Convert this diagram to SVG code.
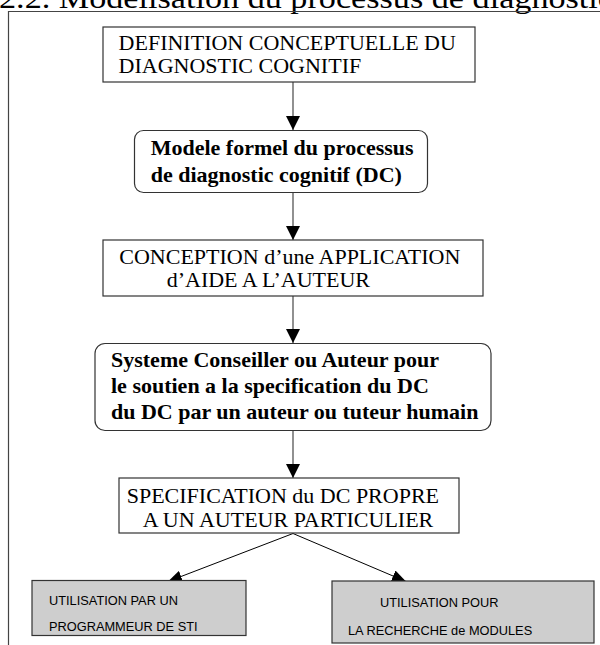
<svg xmlns="http://www.w3.org/2000/svg" width="600" height="645" viewBox="0 0 600 645">
<defs>
<marker id="ah" viewBox="0 0 14 14" refX="14" refY="7" markerWidth="14" markerHeight="14" orient="auto" markerUnits="userSpaceOnUse">
<path d="M0,0 L14,7 L0,14 z" fill="#000"/>
</marker>
<marker id="ah2" viewBox="0 0 14 12" refX="14" refY="6" markerWidth="14" markerHeight="12" orient="auto" markerUnits="userSpaceOnUse">
<path d="M0,0 L14,6 L0,12 z" fill="#000"/>
</marker>
<style>
.box{fill:#fff;stroke:#333;stroke-width:1.2}
.gbox{fill:#cecece;stroke:#333;stroke-width:1.2}
.t{font-family:"Liberation Serif","Times New Roman",serif;font-size:22px;fill:#000}
.b{font-family:"Liberation Serif","Times New Roman",serif;font-size:22px;font-weight:bold;fill:#000}
.s{font-family:"Liberation Sans",Arial,sans-serif;font-size:12.8px;fill:#000}
.v{stroke:#555;stroke-width:1.3;fill:none;marker-end:url(#ah)}
.d{stroke:#000;stroke-width:1;fill:none;marker-end:url(#ah2)}
.frame{stroke:#444;stroke-width:1.2;fill:none}
</style>
</defs>
<rect x="0" y="0" width="600" height="645" fill="#fff"/>
<text x="-1" y="8" font-family="Liberation Serif, serif" font-size="30" textLength="614" lengthAdjust="spacingAndGlyphs" fill="#000">2.2. Modélisation du processus de diagnostic</text>
<path class="frame" d="M8.5,645 V11.5 H600"/>
<g id="connectors">
<line class="v" x1="293" y1="82" x2="293" y2="130"/>
<line class="v" x1="293" y1="193" x2="293" y2="240"/>
<line class="v" x1="293" y1="296" x2="293" y2="343"/>
<line class="v" x1="293" y1="431" x2="293" y2="478"/>
<line class="d" x1="293" y1="533.5" x2="168" y2="581.5"/>
<line class="d" x1="293" y1="533.5" x2="406" y2="581.5"/>
</g>
<g id="n1">
<rect class="box" x="103" y="27" width="372" height="55"/>
<text class="t" x="118.6" y="50">DEFINITION CONCEPTUELLE DU</text>
<text class="t" x="118.6" y="73">DIAGNOSTIC COGNITIF</text>
</g>
<g id="n2">
<rect class="box" x="134.5" y="130.5" width="293" height="62" rx="9"/>
<text class="b" x="150.7" y="155">Modele formel du processus</text>
<text class="b" x="150.7" y="181.5">de diagnostic cognitif (DC)</text>
</g>
<g id="n3">
<rect class="box" x="103" y="240" width="380" height="56"/>
<text class="t" x="119.3" y="264">CONCEPTION d’une APPLICATION</text>
<text class="t" x="166.7" y="287">d’AIDE A L’AUTEUR</text>
</g>
<g id="n4">
<rect class="box" x="95" y="343.5" width="396" height="87" rx="10"/>
<text class="b" x="111" y="367">Systeme Conseiller ou Auteur pour</text>
<text class="b" x="111" y="393">le soutien a la specification du DC</text>
<text class="b" x="111" y="419">du DC par un auteur ou tuteur humain</text>
</g>
<g id="n5">
<rect class="box" x="119" y="478" width="340" height="55"/>
<text class="t" x="126.7" y="503">SPECIFICATION du DC PROPRE</text>
<text class="t" x="142.7" y="527">A UN AUTEUR PARTICULIER</text>
</g>
<g id="n6">
<rect class="gbox" x="32" y="580.5" width="214" height="55"/>
<text class="s" x="49" y="605">UTILISATION PAR UN</text>
<text class="s" x="49" y="630.5">PROGRAMMEUR DE STI</text>
</g>
<g id="n7">
<rect class="gbox" x="332" y="581" width="262" height="62"/>
<text class="s" x="380" y="607">UTILISATION POUR</text>
<text class="s" x="348" y="635">LA RECHERCHE de MODULES</text>
</g>
</svg>
